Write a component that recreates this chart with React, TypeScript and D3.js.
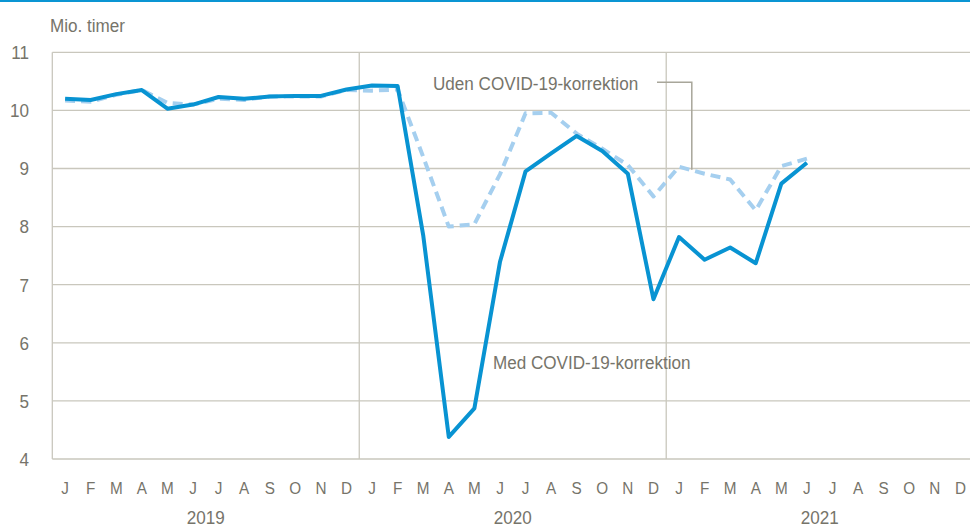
import { useEffect, useRef } from 'react';
import * as d3 from 'd3';

// month initials, repeated for each year
const monthLetters = ['J', 'F', 'M', 'A', 'M', 'J', 'J', 'A', 'S', 'O', 'N', 'D'];
const years = ['2019', '2020', '2021'];
const yTicks = [4, 5, 6, 7, 8, 9, 10, 11];

// Med COVID-19-korrektion (Jan 2019 .. Jun 2021)
const medKorrektion = [
  10.2, 10.18, 10.28, 10.35, 10.03, 10.1, 10.23, 10.2, 10.24, 10.25, 10.25, 10.36,
  10.43, 10.42, 7.85, 4.38, 4.87, 7.39, 8.95, 9.26, 9.56, 9.3, 8.91, 6.75,
  7.82, 7.43, 7.64, 7.37, 8.74, 9.1,
];

// Uden COVID-19-korrektion (Jan 2019 .. Jun 2021)
const udenKorrektion = [
  10.17, 10.15, 10.27, 10.35, 10.13, 10.1, 10.2, 10.18, 10.24, 10.24, 10.24, 10.35,
  10.34, 10.36, 9.2, 8.0, 8.04, 8.9, 9.95, 9.96, 9.6, 9.34, 9.06, 8.52,
  9.03, 8.91, 8.81, 8.28, 9.04, 9.17,
];

const App = () => {
  const ref = useRef<SVGSVGElement>(null);

  useEffect(() => {
    const width = 970;
    const height = 528;
    const left = 52.3;
    const top = 52.3;
    const bottom = 459;
    const band = 25.58;
    const font = "'Liberation Sans Narrow', 'Arial Narrow', 'Liberation Sans', Arial, sans-serif";
    const textColor = '#76746a';
    const gridColor = '#c9c7bd';
    const squeeze = 0.9; // the original font is a condensed one

    const svg = d3.select(ref.current);
    svg.selectAll('*').remove();
    svg.attr('width', width).attr('height', height);

    const x = d3.scaleLinear().domain([0, 36]).range([left, left + 36 * band]);
    const y = d3.scaleLinear().domain([4, 11]).range([bottom, top]);

    // helper for condensed text
    const label = (tx: number, ty: number, txt: string, size: number, anchor = 'start', dy = '0') => {
      svg.append('text')
        .attr('transform', `translate(${tx},${ty}) scale(${squeeze},1)`)
        .attr('dy', dy)
        .attr('text-anchor', anchor)
        .attr('font-family', font)
        .attr('font-size', size)
        .attr('fill', textColor)
        .text(txt);
    };

    // top blue rule
    svg.append('rect').attr('x', 0).attr('y', 0).attr('width', width).attr('height', 2).attr('fill', '#0a95d3');

    // horizontal gridlines
    svg.append('g')
      .selectAll('line')
      .data(yTicks)
      .enter()
      .append('line')
      .attr('x1', left)
      .attr('x2', width)
      .attr('y1', (d) => y(d))
      .attr('y2', (d) => y(d))
      .attr('stroke', gridColor)
      .attr('stroke-width', 1.3);

    // left axis line and year separators
    [0, 12, 24].forEach((i) => {
      svg.append('line')
        .attr('x1', x(i))
        .attr('x2', x(i))
        .attr('y1', top)
        .attr('y2', bottom)
        .attr('stroke', gridColor)
        .attr('stroke-width', 1.3);
    });

    // y tick labels
    yTicks.forEach((d) => label(29, y(d), String(d), 19, 'end', '0.36em'));

    // unit label
    label(50, 32, 'Mio. timer', 19);

    // month letters
    const months = years.flatMap(() => monthLetters);
    months.forEach((m, i) => label(x(i + 0.5), 494, m, 17, 'middle'));

    // years
    years.forEach((yr, i) => label(x(i * 12 + 6), 524, yr, 19, 'middle'));

    const line = d3.line<number>()
      .x((_d, i) => x(i + 0.5))
      .y((d) => y(d));

    // dashed series
    svg.append('path')
      .datum(udenKorrektion)
      .attr('d', line)
      .attr('fill', 'none')
      .attr('stroke', '#a5cfef')
      .attr('stroke-width', 4)
      .attr('stroke-dasharray', '10,6')
      .attr('stroke-linejoin', 'round');

    // solid series
    svg.append('path')
      .datum(medKorrektion)
      .attr('d', line)
      .attr('fill', 'none')
      .attr('stroke', '#0893d2')
      .attr('stroke-width', 4)
      .attr('stroke-linejoin', 'round');

    // annotation: Uden, with leader line to the dashed series
    label(433, 90, 'Uden COVID-19-korrektion', 19);
    const leaderX = x(24 + 1);
    svg.append('path')
      .attr('d', `M657,82.3H${leaderX}V${y(udenKorrektion[25]) - 4}`)
      .attr('fill', 'none')
      .attr('stroke', '#a8a69a')
      .attr('stroke-width', 1.5);

    // annotation: Med
    label(493, 369, 'Med COVID-19-korrektion', 19);
  }, []);

  return (
    <div style={{ position: 'absolute', left: 0, top: 0 }}>
      <svg ref={ref} style={{ display: 'block' }}></svg>
    </div>
  );
};

export default App;
